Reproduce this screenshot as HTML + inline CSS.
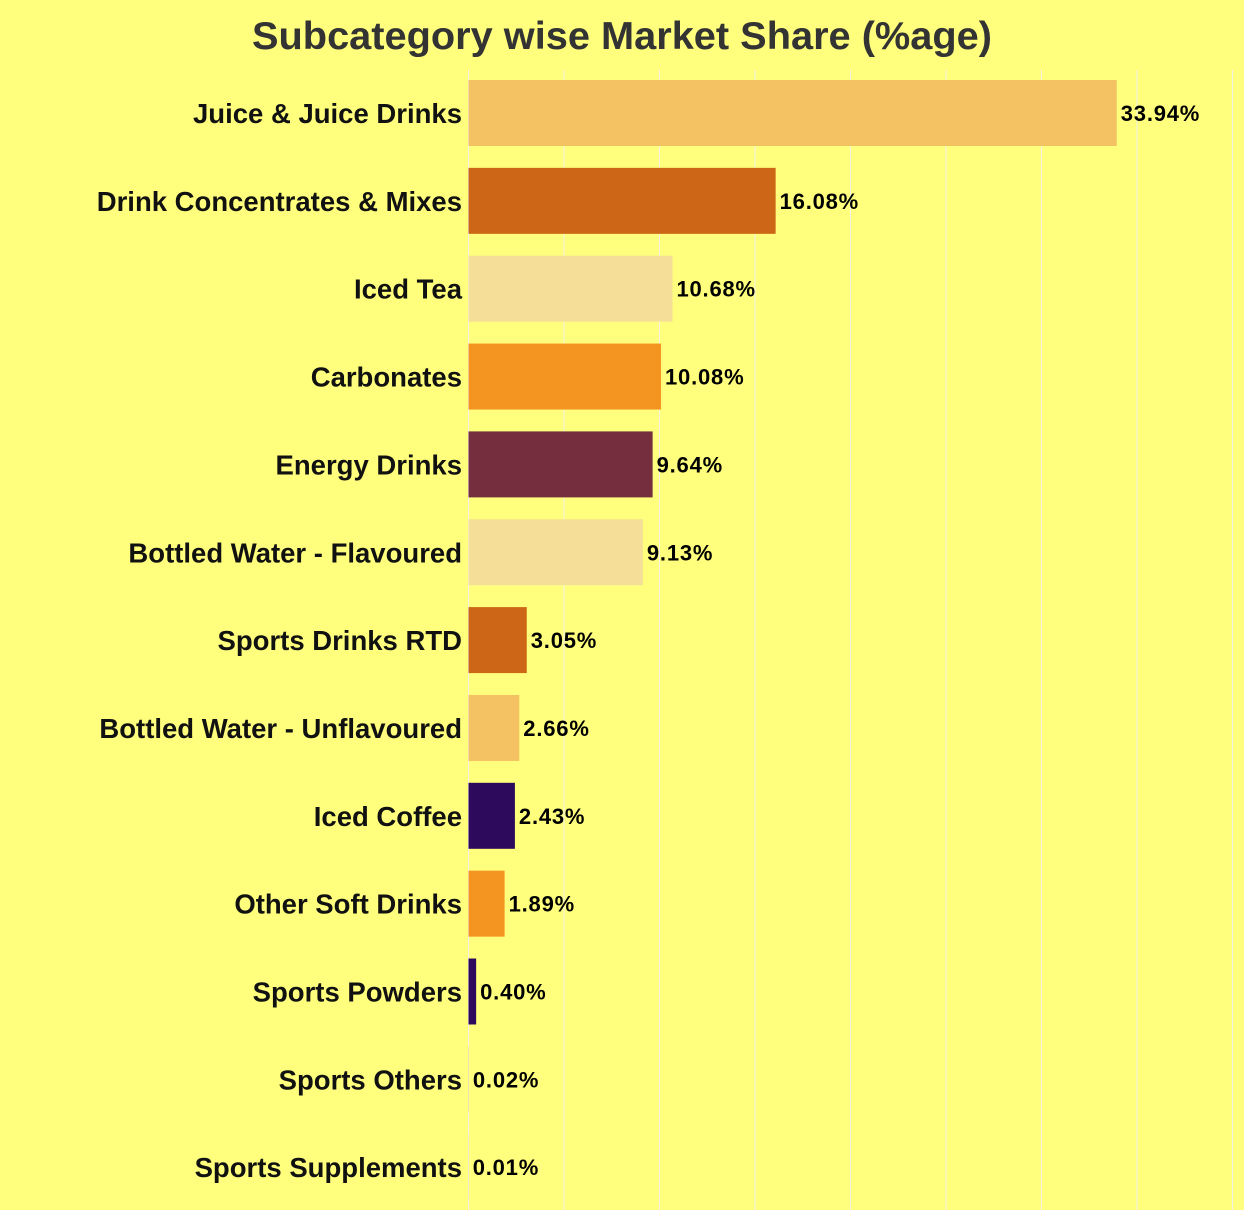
<!DOCTYPE html>
<html><head><meta charset="utf-8"><style>
body{margin:0;background:#ffff7d;}
svg{display:block;font-family:"Liberation Sans",sans-serif;}
</style></head><body>
<svg id="chart" width="1244" height="1210">
<rect width="1244" height="1210" fill="#ffff7d"/>
<text x="622" y="49" text-anchor="middle" font-size="39" font-weight="bold" fill="#333333" textLength="740" lengthAdjust="spacingAndGlyphs">Subcategory wise Market Share (%age)</text>
<g id="grid"></g><g id="bars"></g>
</svg>
<script>
const categories=["Juice & Juice Drinks","Drink Concentrates & Mixes","Iced Tea","Carbonates","Energy Drinks","Bottled Water - Flavoured","Sports Drinks RTD","Bottled Water - Unflavoured","Iced Coffee","Other Soft Drinks","Sports Powders","Sports Others","Sports Supplements"];
const values=[33.94,16.08,10.68,10.08,9.64,9.13,3.05,2.66,2.43,1.89,0.40,0.02,0.01];
const colors=["#f4c163","#cd6617","#f5de97","#f49522","#742e3e","#f5de97","#cd6617","#f4c163","#2e0a5c","#f49522","#2e0a5c","#f4c163","#f4c163"];
const gridTicks=[0,5,10,15,20,25,30,35,40];
const NS="http://www.w3.org/2000/svg";
const x0=468.5,pxPer=19.1;
const xs=v=>x0+v*pxPer;
const y0=113,step=87.85,bh=66;
const ys=i=>y0+i*step;
const g=document.getElementById('grid'),b=document.getElementById('bars');
gridTicks.forEach(t=>{const l=document.createElementNS(NS,'line');
l.setAttribute('x1',xs(t));l.setAttribute('x2',xs(t));l.setAttribute('y1',70);l.setAttribute('y2',1210);
l.setAttribute('stroke','#f2f2e8');l.setAttribute('stroke-width',1);


g.appendChild(l);});
categories.forEach((c,i)=>{
const cy=ys(i);
const r=document.createElementNS(NS,'rect');
r.setAttribute('x',xs(0));r.setAttribute('y',cy-bh/2);r.setAttribute('width',Math.max(0,xs(values[i])-xs(0)));r.setAttribute('height',bh);r.setAttribute('fill',colors[i]);


b.appendChild(r);
const t=document.createElementNS(NS,'text');
t.setAttribute('x',462);t.setAttribute('y',cy+10);t.setAttribute('text-anchor','end');t.setAttribute('font-size','27.5');t.setAttribute('font-weight','bold');t.setAttribute('fill','#111');
t.textContent=c;


b.appendChild(t);
const v=document.createElementNS(NS,'text');
v.setAttribute('x',xs(values[i])+4);v.setAttribute('y',cy+8);v.setAttribute('font-size','22');v.setAttribute('font-weight','bold');v.setAttribute('fill','#000');v.setAttribute('letter-spacing','0.8');
v.textContent=values[i].toFixed(2)+'%';


b.appendChild(v);
});
</script>
</body></html>
